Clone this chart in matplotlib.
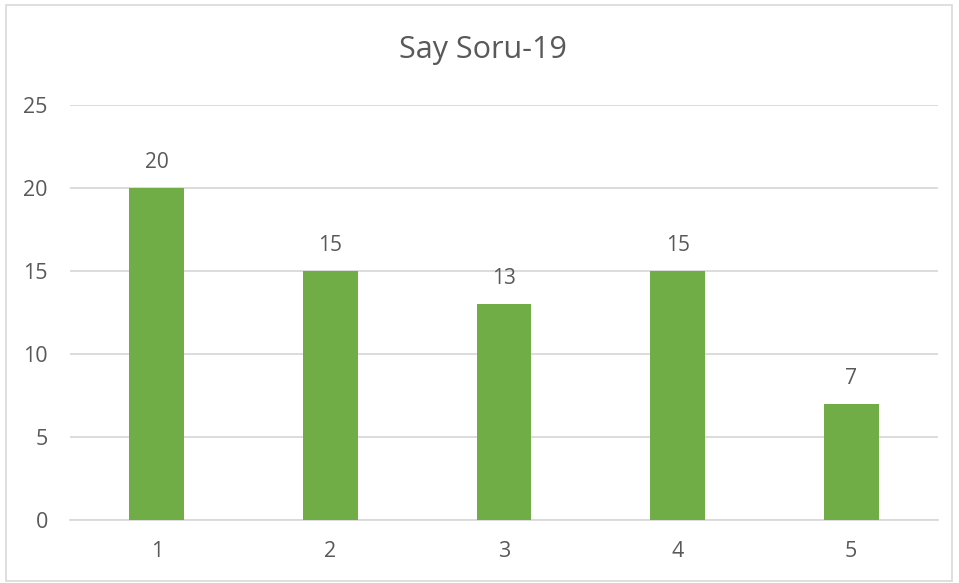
"""
Bar chart: Say Soru-19.
"""
import matplotlib

matplotlib.use("Agg")
import matplotlib.pyplot as plt
from matplotlib.patches import Rectangle

CATEGORIES = ["1", "2", "3", "4", "5"]
VALUES = [20, 15, 13, 15, 7]
Y_TICKS = [0, 5, 10, 15, 20, 25]
TITLE = "Say Soru-19"

BAR_COLOR = "#70AD47"
TEXT_COLOR = "#595959"
GRID_COLOR = "#D9D9D9"

plt.rcParams["font.family"] = ["Open Sans", "DejaVu Sans"]


def main() -> None:
    fig = plt.figure(figsize=(9.59, 5.83), dpi=100)
    fig.patches.append(Rectangle((6 / 959, 2 / 583), 946 / 959, 576 / 583,
                                 transform=fig.transFigure, fill=False,
                                 edgecolor=GRID_COLOR, linewidth=1.2))
    ax = fig.add_axes([70 / 959, 1 - 520 / 583, 868 / 959, 415 / 583])
    x = list(range(len(CATEGORIES)))
    ax.bar(x, VALUES, width=0.315, color=BAR_COLOR, zorder=3)
    for xi, v in zip(x, VALUES):
        ax.annotate(str(v), (xi, v), xytext=(0, 11), textcoords="offset points",
                    ha="center", va="bottom", fontsize=15, color=TEXT_COLOR)
    ax.set_xlim(-0.5, len(CATEGORIES) - 0.5)
    ax.set_ylim(0, 25)
    ax.set_yticks(Y_TICKS)
    ax.set_xticks(x)
    ax.set_xticklabels(CATEGORIES)
    ax.grid(axis="y", color=GRID_COLOR, linewidth=1.3, zorder=0)
    ax.tick_params(axis="both", length=0, labelsize=15.5, labelcolor=TEXT_COLOR)
    ax.tick_params(axis="y", pad=16)
    ax.tick_params(axis="x", pad=15)
    for side in ["top", "right", "left"]:
        ax.spines[side].set_visible(False)
    ax.spines["bottom"].set_color(GRID_COLOR)
    ax.spines["bottom"].set_linewidth(1.3)
    fig.text(483 / 959, 1 - 50 / 583, TITLE, ha="center", va="center",
             fontsize=22, color=TEXT_COLOR)
    fig.savefig("out.png", dpi=100)
    plt.close(fig)


if __name__ == "__main__":
    main()
